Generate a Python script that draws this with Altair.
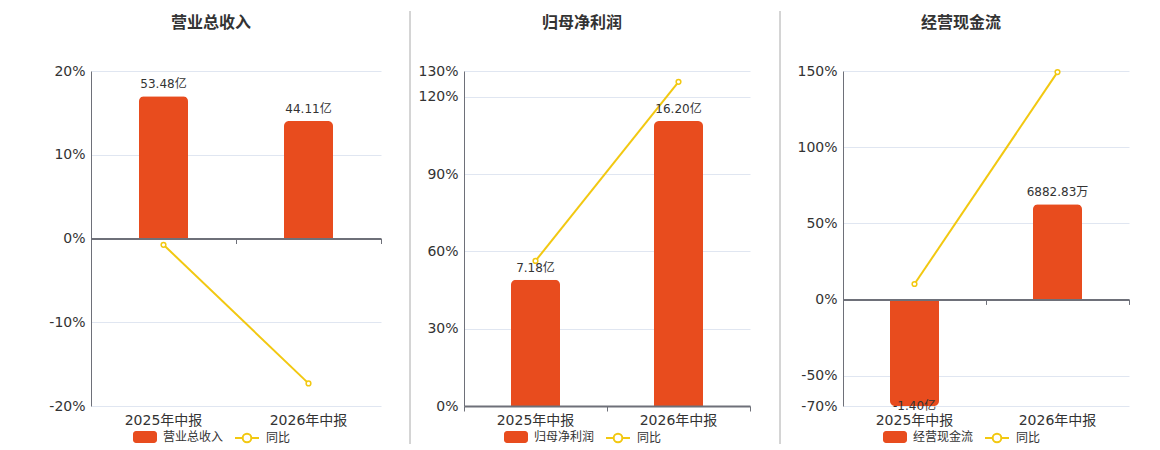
import altair as alt
import pandas as pd

categories = ["2025年中报", "2026年中报"]
titles = ["营业总收入", "归母净利润", "经营现金流"]
bar_values = [[53.48, 44.11], [7.18, 16.20], [-1.40, 0.688283]]
bar_labels = [["53.48亿", "44.11亿"], ["7.18亿", "16.20亿"], ["-1.40亿", "6882.83万"]]
yoy_values = [[-0.75, -17.3], [56.3, 125.8], [10.1, 149.3]]
y_domains = [[-20, 20], [0, 130], [-70, 150]]
y_ticks = [[-20, -10, 0, 10, 20], [0, 30, 60, 90, 120, 130], [-70, -50, 0, 50, 100, 150]]
# hidden bar scale: amount per percent point of the left axis (zero shared)
bar_per_pct = [53.48 / 17.0, 16.20 / 110.6, 0.688283 / 62.5]

FONT = "DejaVu Sans, 'Noto Sans CJK SC', sans-serif"
ORANGE = "#E84C1E"
YELLOW = "#F2C811"
AXIS = "#6E7079"
GRID = "#E0E6F1"
TEXT = "#333333"

RECT_PATH = ("M-0.75,-0.5L0.75,-0.5A0.25,0.25 0 0 1 1,-0.25L1,0.25A0.25,0.25 0 0 1 0.75,0.5"
             "L-0.75,0.5A0.25,0.25 0 0 1 -1,0.25L-1,-0.25A0.25,0.25 0 0 1 -0.75,-0.5Z")
LINE_PATH = ("M-1,0L-0.36,0M0.36,0L1,0M0.36,0A0.36,0.36 0 1 1 -0.36,0A0.36,0.36 0 1 1 0.36,0")

HEIGHT = 335
widths = [290, 286, 286]
extents = [82, 54, 65]
sep_x = [-82, -54, -63]
sep_colors = ["#FFFFFF", "#AAAAAA", "#AAAAAA"]


def panel(i):
    w = widths[i]
    ext = extents[i]
    dmin, dmax = y_domains[i]
    k = bar_per_pct[i]
    zero_px = HEIGHT * dmax / (dmax - dmin)
    df = pd.DataFrame({
        "cat": categories,
        "v": bar_values[i],
        "label": bar_labels[i],
        "yoy": yoy_values[i],
        "series": titles[i],
        "s": "同比",
    })
    base = alt.Chart(df)
    xscale = alt.Scale(paddingInner=0, paddingOuter=0)
    ybar = alt.Y("v:Q", scale=alt.Scale(domain=[dmin * k, dmax * k], clamp=True, nice=False, zero=False),
                 axis=None)
    center = w / 2 - 25

    xlab = alt.X("cat:N", sort=categories, scale=xscale, title=None,
                 axis=alt.Axis(orient="bottom", labelAngle=0, labelFontSize=14, labelColor=TEXT,
                               labelFont=FONT, labelPadding=7, domain=False, ticks=False, grid=False))
    color = alt.Color("series:N", scale=alt.Scale(domain=[titles[i]], range=[ORANGE]),
                      legend=alt.Legend(orient="none", legendX=center - 78, legendY=354, title=None,
                                        symbolType=RECT_PATH, symbolSize=576, symbolStrokeWidth=0,
                                        labelFontSize=12, labelColor=TEXT, labelFont=FONT,
                                        padding=0, labelOffset=6))
    bars_pos = base.transform_filter("datum.v >= 0").mark_bar(
        size=49, cornerRadiusTopLeft=5, cornerRadiusTopRight=5
    ).encode(x=xlab, y=ybar, color=color)
    xt = alt.X("cat:N", sort=categories, scale=xscale, axis=None)
    bars_neg = base.transform_filter("datum.v < 0").mark_bar(
        size=49, cornerRadiusBottomLeft=5, cornerRadiusBottomRight=5
    ).encode(x=xt, y=ybar, color=color)

    line = base.mark_line(strokeWidth=2, point=alt.OverlayMarkDef(filled=True, fill="white",
                                                                  strokeWidth=1.5, size=22)).encode(
        x=alt.X("cat:N", sort=categories, scale=xscale, title=None,
                axis=alt.Axis(orient="bottom", offset=-(HEIGHT - zero_px), labels=False, grid=False,
                              domain=True, domainColor=AXIS, domainWidth=2, ticks=True,
                              tickBand="extent", tickSize=5, tickColor=AXIS, tickWidth=1, zindex=1)),
        y=alt.Y("yoy:Q", scale=alt.Scale(domain=[dmin, dmax], nice=False, zero=False), title=None,
                axis=alt.Axis(values=y_ticks[i], labelExpr="datum.value + '%'", grid=True,
                              gridColor=GRID, gridWidth=1, domain=True, domainColor=AXIS,
                              domainWidth=1, ticks=False, tickSize=0, labelFontSize=14,
                              labelColor=TEXT, labelFont=FONT, labelPadding=6,
                              labelOverlap=False, minExtent=ext, maxExtent=ext)),
        stroke=alt.Stroke("s:N", scale=alt.Scale(domain=["同比"], range=[YELLOW]),
                          legend=alt.Legend(orient="none", legendX=center + 23, legendY=354, title=None,
                                            symbolType=LINE_PATH, symbolSize=576, symbolStrokeWidth=2,
                                            symbolFillColor="white", labelFontSize=12, labelColor=TEXT,
                                            labelFont=FONT, padding=0, labelOffset=6)),
    )

    text_pos = base.transform_filter("datum.v >= 0").mark_text(
        baseline="bottom", dy=-5, fontSize=12, color=TEXT, font=FONT
    ).encode(x=xt, y=ybar, text="label:N")
    text_neg = base.transform_filter("datum.v < 0").mark_text(
        baseline="top", dy=-5, fontSize=12, color=TEXT, font=FONT
    ).encode(x=xt, y=ybar, text="label:N")

    sep = alt.Chart(alt.Data(values=[{"a": 1}])).mark_rule(color=sep_colors[i], strokeWidth=1).encode(
        x=alt.value(sep_x[i]), y=alt.value(-60), y2=alt.value(373)
    )

    return alt.layer(bars_pos, bars_neg, line, text_pos, text_neg, sep).resolve_scale(
        y="independent"
    ).resolve_axis(x="independent").properties(
        width=w, height=HEIGHT,
        title=alt.TitleParams(text=titles[i], fontSize=16, fontWeight="bold", color=TEXT, font=FONT,
                              offset=-20, dx=-25, anchor="middle", frame="group"),
    )


chart = alt.hconcat(panel(0), panel(1), panel(2), spacing=27).resolve_scale(
    color="independent", stroke="independent", x="independent"
).resolve_legend(color="independent", stroke="independent").properties(
    padding={"left": 0, "top": 2, "right": 5, "bottom": 2}
).configure_view(stroke=None)

chart.save("out.html", embed_options={"renderer": "svg", "actions": False})
